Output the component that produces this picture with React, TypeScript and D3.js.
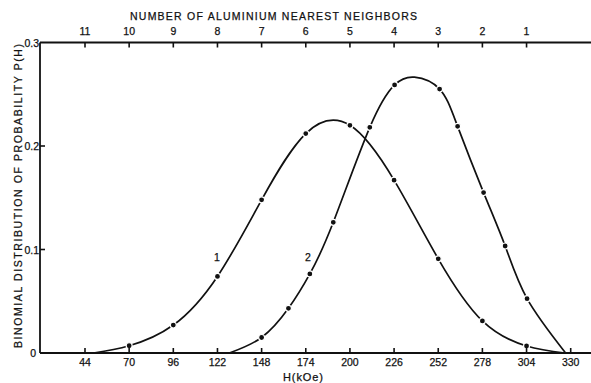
import React from "react";
import * as d3 from "d3";

// Bottom axis: hyperfine field H (kOe); top axis: number of Al nearest neighbours
const hTicks = [44, 70, 96, 122, 148, 174, 200, 226, 252, 278, 304, 330];
const nnTicks = [11, 10, 9, 8, 7, 6, 5, 4, 3, 2, 1];
const nnPositions = [44, 70, 96, 122, 148, 174, 200, 226, 252, 278, 304];
const yTicks = [0, 0.1, 0.2, 0.3];
const yTickLabels = ["0", "0.1", "0.2", "0.3"];

// Curve 1 measured points
const curve1H = [70, 96, 122, 148, 174, 200, 226, 252, 278, 304];
const curve1P = [0.007, 0.027, 0.074, 0.148, 0.212, 0.22, 0.167, 0.091, 0.031, 0.0068];
// Curve 1 end points where it meets the axis
const curve1StartH = 49;
const curve1EndH = 326.5;

// Curve 2 measured points
const curve2H = [148, 163.8, 176.4, 190.2, 211.7, 226.3, 252.8, 263.4, 278.7, 291.4, 304.3];
const curve2P = [0.015, 0.0432, 0.0764, 0.1263, 0.218, 0.259, 0.255, 0.219, 0.155, 0.1034, 0.0525];
const curve2StartH = 129;
const curve2EndH = 327;
// apex of the drawn curve 2 (between the 226 and 253 points)
const curve2PeakH = 238;
const curve2PeakP = 0.2665;

const W = 591;
const H = 383;
const FONT = "'Liberation Sans', Arial, sans-serif";

export default function App() {
  const x = d3.scaleLinear().domain([44, 330]).range([85, 570.7]);
  const y = d3.scaleLinear().domain([0, 0.3]).range([353, 42.5]);
  const axisLeft = 40;
  const axisRight = 591;

  const line = d3
    .line<[number, number]>()
    .x((d) => x(d[0]))
    .y((d) => y(d[1]))
    .curve(d3.curveNatural);

  const c1: [number, number][] = [
    [curve1StartH, 0],
    ...curve1H.map((h, i) => [h, curve1P[i]] as [number, number]),
    [curve1EndH, 0],
  ];
  const c2: [number, number][] = [
    [curve2StartH, 0],
    ...curve2H.map((h, i) => [h, curve2P[i]] as [number, number]),
    [curve2PeakH, curve2PeakP],
    [curve2EndH, 0],
  ].sort((a, b) => a[0] - b[0]) as [number, number][];

  const dots = [
    ...curve1H.map((h, i) => [h, curve1P[i]]),
    ...curve2H.map((h, i) => [h, curve2P[i]]),
  ];

  return (
    <svg width={W} height={H} style={{ position: "absolute", left: 0, top: 0, background: "#fff" }}>
      <rect x={0} y={0} width={W} height={H} fill="#fff" />
      {/* curves */}
      <g fill="none" stroke="#111" strokeWidth={1.7}>
        <path d={line(c1) || ""} />
        <path d={line(c2) || ""} />
      </g>
      {dots.map((d, i) => (
        <circle key={i} cx={x(d[0])} cy={y(d[1])} r={3} fill="#111" stroke="#fff" strokeWidth={1.2} />
      ))}
      {/* axes lines */}
      <g stroke="#111" strokeWidth={1.8} fill="none">
        <line x1={axisLeft} x2={axisRight} y1={y(0)} y2={y(0)} />
        <line x1={axisLeft} x2={axisRight} y1={y(0.3)} y2={y(0.3)} />
        <line x1={axisLeft} x2={axisLeft} y1={y(0.3)} y2={y(0)} />
      </g>
      {/* ticks */}
      <g stroke="#111" strokeWidth={1.6}>
        {hTicks.map((t) => (
          <line key={t} x1={x(t)} x2={x(t)} y1={y(0)} y2={y(0) - 5} />
        ))}
        {nnPositions.map((t) => (
          <line key={"n" + t} x1={x(t)} x2={x(t)} y1={y(0.3)} y2={y(0.3) + 5} />
        ))}
        {yTicks.slice(1, 3).map((t) => (
          <line key={"y" + t} x1={axisLeft} x2={axisLeft + 5} y1={y(t)} y2={y(t)} />
        ))}
      </g>
      {/* tick labels */}
      <g fontFamily={FONT} fontSize={10.5} fill="#111" textAnchor="middle" stroke="#111" strokeWidth={0.25}>
        {hTicks.map((t) => (
          <text key={t} x={x(t)} y={366}>
            {t}
          </text>
        ))}
        {nnTicks.map((t, i) => (
          <text key={"n" + t} x={x(nnPositions[i])} y={35}>
            {t}
          </text>
        ))}
      </g>
      <g fontFamily={FONT} fontSize={10.5} fill="#111" textAnchor="end" stroke="#111" strokeWidth={0.25}>
        {yTicks.map((t, i) => (
          <text key={t} x={t === 0 ? 36 : 39} y={y(t) + 4}>
            {yTickLabels[i]}
          </text>
        ))}
      </g>
      {/* titles */}
      <text
        x={130}
        y={20}
        fontFamily={FONT}
        fontSize={10.5}
        fill="#111"
        stroke="#111"
        strokeWidth={0.25}
        textLength={287}
        lengthAdjust="spacing"
      >
        NUMBER OF ALUMINIUM NEAREST NEIGHBORS
      </text>
      <text
        x={283}
        y={381}
        fontFamily={FONT}
        fontSize={11}
        fill="#111"
        stroke="#111"
        strokeWidth={0.25}
        textLength={40}
        lengthAdjust="spacing"
      >
        H(kOe)
      </text>
      <text
        transform={`translate(22,348) rotate(-90)`}
        fontFamily={FONT}
        fontSize={10.5}
        fill="#111"
        stroke="#111"
        strokeWidth={0.25}
        textLength={304}
        lengthAdjust="spacing"
      >
        BINOMIAL DISTRIBUTION OF PROBABILITY P(H)
      </text>
      {/* curve labels */}
      <g fontFamily={FONT} fontSize={10.5} fill="#111" textAnchor="middle" stroke="#111" strokeWidth={0.25}>
        <text x={217} y={261}>1</text>
        <text x={308} y={261}>2</text>
      </g>
    </svg>
  );
}
